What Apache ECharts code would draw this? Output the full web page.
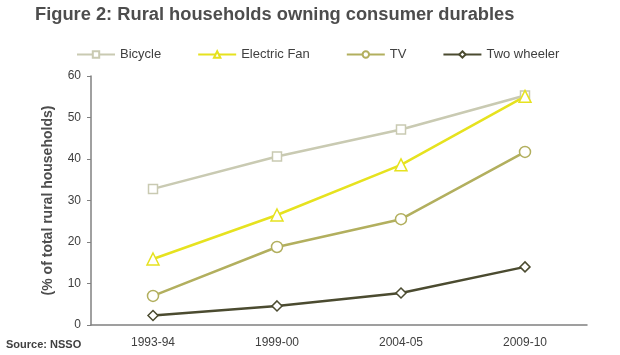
<!DOCTYPE html>
<html><head><meta charset="utf-8">
<script src="https://cdn.jsdelivr.net/npm/echarts@6/dist/echarts.min.js"></script>
<style>html,body{margin:0;padding:0;background:#fff}#c{width:620px;height:355px}</style>
</head><body><div id="c"></div>
<script>
const categories = ['1993-94','1999-00','2004-05','2009-10'];
const bicycle = [32.8, 40.6, 47.1, 55.3];
const electricFan = [15.9, 26.5, 38.6, 55.1];
const tv = [7.0, 18.8, 25.5, 41.7];
const twoWheeler = [2.3, 4.6, 7.7, 14.0];
const yTicks = [0, 10, 20, 30, 40, 50, 60];

const chart = echarts.init(document.getElementById('c'));
function s(name, data, color, symbol, size){
  return {name, type:'line', data, symbol, symbolSize:size, showAllSymbol:true,
    lineStyle:{color, width:2.5}, itemStyle:{color:'#fff', borderColor:color, borderWidth:1.5},
    emphasis:{disabled:true}};
}
chart.setOption({
  animation:false,
  title:{text:'Figure 2: Rural households owning consumer durables', left:30, top:1,
    textStyle:{fontFamily:'Liberation Sans', fontWeight:'bold', fontSize:18.3, color:'#4d4d4d'}},
  legend:{left:76, top:48, padding:0, itemWidth:38, itemHeight:8, itemGap:36,
    textStyle:{fontFamily:'Liberation Sans', fontSize:13, color:'#404040'},
    data:['Bicycle','Electric Fan','TV','Two wheeler']},
  grid:{left:91, right:33, top:76, bottom:30, containLabel:false},
  xAxis:{type:'category', data:categories, boundaryGap:true,
    axisLine:{lineStyle:{color:'#808080', width:1.5}},
    axisTick:{inside:true, length:5, lineStyle:{color:'#808080'}},
    axisLabel:{fontFamily:'Liberation Sans', fontSize:12, color:'#404040', margin:12}},
  yAxis:{type:'value', min:0, max:60, interval:10,
    name:'(% of total rural households)', nameLocation:'middle', nameGap:36,
    nameTextStyle:{fontFamily:'Liberation Sans', fontWeight:'bold', fontSize:14, color:'#4d4d4d'},
    axisLine:{show:true, lineStyle:{color:'#808080', width:1.5}},
    axisTick:{show:true, length:4, lineStyle:{color:'#808080'}},
    splitLine:{show:false},
    axisLabel:{fontFamily:'Liberation Sans', fontSize:12, color:'#404040', margin:10,
      formatter:v=>yTicks.includes(v)?String(v):''}},
  graphic:[{type:'text', left:6, top:339, style:{text:'Source: NSSO', font:'bold 11px "Liberation Sans"', fill:'#404040'}}],
  series:[
    s('Bicycle', bicycle, '#c9cab2', 'rect', 9),
    s('Electric Fan', electricFan, '#e6e21f', 'triangle', 12),
    s('TV', tv, '#b2af5e', 'circle', 11),
    s('Two wheeler', twoWheeler, '#4b4b30', 'diamond', 10)
  ]
});
</script></body></html>
